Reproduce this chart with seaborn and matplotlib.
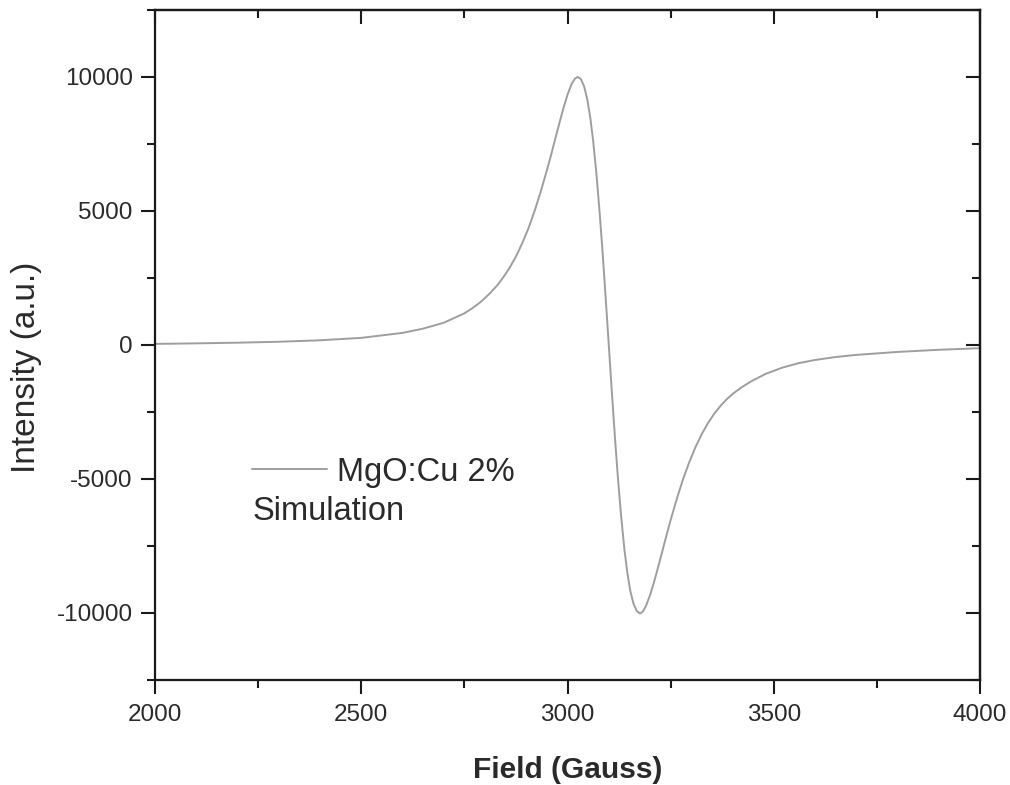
import matplotlib
matplotlib.use("Agg")
import matplotlib.pyplot as plt
from matplotlib.ticker import MultipleLocator
import pandas as pd
import seaborn as sns

# ===== Data =====
field = [2000, 2100, 2200, 2300, 2400, 2500, 2600, 2650, 2700, 2750,
         2770, 2790, 2810, 2830, 2845, 2860, 2875, 2890, 2905, 2920,
         2935, 2950, 2960, 2970, 2980, 2990, 3000, 3010, 3018, 3025,
         3032, 3040, 3048, 3055, 3062, 3070, 3078, 3085, 3092, 3100,
         3108, 3115, 3122, 3130, 3138, 3145, 3152, 3160, 3168, 3176,
         3183, 3190, 3200, 3210, 3220, 3230, 3240, 3250, 3265, 3280,
         3295, 3310, 3325, 3340, 3355, 3370, 3385, 3400, 3420, 3445,
         3480, 3520, 3560, 3600, 3650, 3700, 3800, 3900, 4000]
intensity = [40, 60, 85, 120, 175, 265, 450, 610, 830, 1180,
             1380, 1610, 1900, 2230, 2540, 2890, 3300, 3790, 4340, 4990,
             5720, 6520, 7080, 7680, 8260, 8830, 9340, 9740, 9940, 10000,
             9930, 9660, 9160, 8500, 7640, 6400, 4920, 3460, 1880, 0,
             -1880, -3460, -4920, -6400, -7640, -8500, -9160, -9660, -9930, -10020,
             -9940, -9740, -9340, -8830, -8270, -7690, -7100, -6530, -5740, -5010,
             -4380, -3820, -3340, -2930, -2580, -2290, -2040, -1830, -1600, -1360,
             -1080, -850, -680, -560, -450, -370, -260, -180, -120]

x_ticks = [2000, 2500, 3000, 3500, 4000]
y_ticks = [-10000, -5000, 0, 5000, 10000]

df = pd.DataFrame({"field": field, "intensity": intensity})

# ===== Style =====
sns.set_style("white")
plt.rcParams["font.family"] = ["Liberation Sans", "DejaVu Sans"]
plt.rcParams["axes.unicode_minus"] = False
text_col = "#2a2a2a"
tick_col = "#1a1a1a"

fig = plt.figure(figsize=(10.1, 7.85), dpi=100)
ax = fig.add_axes([0.1535, 0.1338, 0.8168, 0.8535])

sns.lineplot(data=df, x="field", y="intensity", ax=ax, color="#9e9e9e",
             linewidth=1.4, label="MgO:Cu 2%")

ax.set_xlim(2000, 4000)
ax.set_ylim(-12500, 12500)
ax.set_xticks(x_ticks)
ax.set_yticks(y_ticks)
ax.xaxis.set_minor_locator(MultipleLocator(250))
ax.yaxis.set_minor_locator(MultipleLocator(2500))

for s in ax.spines.values():
    s.set_linewidth(1.6)
    s.set_color(tick_col)

ax.tick_params(axis="both", which="both", bottom=True, left=True, top=False, right=False)
ax.tick_params(axis="both", which="major", direction="out", length=10,
               width=1.5, color=tick_col, labelsize=17.5, labelcolor=text_col)
ax.tick_params(axis="x", which="major", pad=7)
ax.tick_params(axis="y", which="major", pad=6)
ax.tick_params(axis="both", which="minor", direction="out", length=5.5,
               width=1.5, color=tick_col)

# mirrored ticks pointing inward on top and right
top = ax.secondary_xaxis("top")
top.set_xticks(x_ticks)
top.xaxis.set_minor_locator(MultipleLocator(250))
top.tick_params(which="both", top=True, direction="in", color=tick_col, width=1.5, labeltop=False)
top.tick_params(which="major", length=10)
top.tick_params(which="minor", length=5.5)
top.spines["top"].set_linewidth(1.6)
top.spines["top"].set_color(tick_col)

right = ax.secondary_yaxis("right")
right.set_yticks(y_ticks)
right.yaxis.set_minor_locator(MultipleLocator(2500))
right.tick_params(which="both", right=True, direction="in", color=tick_col, width=1.5, labelright=False)
right.tick_params(which="major", length=10)
right.tick_params(which="minor", length=5.5)
right.spines["right"].set_linewidth(1.6)
right.spines["right"].set_color(tick_col)

ax.set_xlabel("Field (Gauss)", fontsize=21.5, fontweight="bold", color=text_col)
ax.set_ylabel("Intensity (a.u.)", fontsize=24, color=text_col)
ax.xaxis.set_label_coords(0.5, -0.113)
ax.yaxis.set_label_coords(-0.137, 0.466)

# ===== Legend =====
leg = ax.legend(loc="center left", bbox_to_anchor=(0.1176, 0.31), frameon=False,
                fontsize=23.5, handlelength=2.3, handletextpad=0.3,
                borderpad=0, borderaxespad=0)
for t in leg.get_texts():
    t.set_color(text_col)
ax.text(0.1176, 0.251, "Simulation", transform=ax.transAxes, ha="left",
        va="center", fontsize=23.5, color=text_col)

fig.savefig("out.png", dpi=100)
